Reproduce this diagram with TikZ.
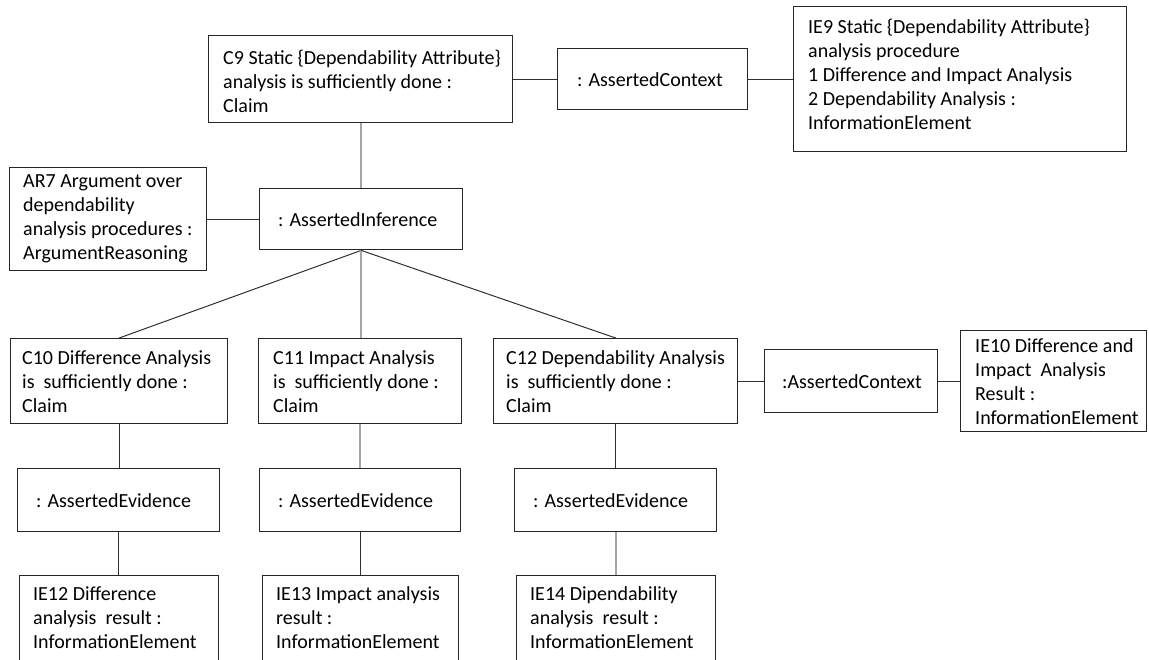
\documentclass[tikz,border=0pt]{standalone}
\usepackage{fontspec}
\setmainfont{Carlito}
\definecolor{boxline}{HTML}{262626}
\definecolor{linkdark}{HTML}{303030}
\definecolor{linkgray}{HTML}{A6A6A6}
\begin{document}
\begin{tikzpicture}[x=1pt,y=-1pt,
  frame/.style={draw=boxline, line width=1.4pt, fill=white, inner sep=0pt,
    anchor=north west},
  txt/.style={inner sep=0pt, align=left, anchor=west,
    font=\fontsize{20}{24}\selectfont},
  link/.style={draw=linkdark, line width=1.3pt},
  glink/.style={draw=linkgray, line width=1.8pt},
  slant/.style={draw=linkdark, line width=1pt}]
\useasboundingbox (0,0) rectangle (1149,660);
\clip (0,0) rectangle (1149,660);

% top claim with its context
\node[frame, minimum width=304pt, minimum height=87pt] (c9) at (208,35) {};
\node[txt] (c9t) at ([xshift=15pt,yshift=-2pt]c9.west)
  {C9 Static \{Dependability Attribute\}\\analysis is sufficiently done :\\Claim};
\node[frame, minimum width=190pt, minimum height=61pt] (ac1) at (557,48) {};
\node[txt] (ac1t) at ([xshift=20pt]ac1.west) {: AssertedContext};
\node[frame, minimum width=333pt, minimum height=145pt] (ie9) at (793,6) {};
\node[txt] (ie9t) at ([xshift=15pt,yshift=5pt]ie9.west)
  {IE9 Static \{Dependability Attribute\}\\analysis procedure\\1 Difference and Impact Analysis\\2 Dependability Analysis :\\InformationElement};

% inference and its reasoning
\node[frame, minimum width=197pt, minimum height=103pt] (ar7) at (9,167) {};
\node[txt] (ar7t) at ([xshift=14pt]ar7.west)
  {AR7 Argument over\\dependability\\analysis procedures :\\ArgumentReasoning};
\node[frame, minimum width=203pt, minimum height=61pt] (ai) at (259,188) {};
\node[txt] (ait) at ([xshift=19pt]ai.west) {: AssertedInference};

% sub-claims
\node[frame, minimum width=217pt, minimum height=85pt] (c10) at (10,338) {};
\node[txt] (c10t) at ([xshift=12pt]c10.west)
  {C10 Difference Analysis\\is\ \ sufficiently done :\\Claim};
\node[frame, minimum width=203pt, minimum height=85pt] (c11) at (258,338) {};
\node[txt] (c11t) at ([xshift=15pt]c11.west)
  {C11 Impact Analysis\\is\ \ sufficiently done :\\Claim};
\node[frame, minimum width=244pt, minimum height=85pt] (c12) at (493,338) {};
\node[txt] (c12t) at ([xshift=13pt]c12.west)
  {C12 Dependability Analysis\\is\ \ sufficiently done :\\Claim};
\node[frame, minimum width=173pt, minimum height=63pt] (ac2) at (764,349) {};
\node[txt] (ac2t) at ([xshift=18pt]ac2.west) {:AssertedContext};
\node[frame, minimum width=186pt, minimum height=101pt] (ie10) at (960,330) {};
\node[txt] (ie10t) at ([xshift=15pt]ie10.west)
  {IE10 Difference and\\Impact\ \ Analysis\\Result :\\InformationElement};

% evidence links
\node[frame, minimum width=202pt, minimum height=63pt] (ae1) at (17,468) {};
\node[txt] (ae1t) at ([xshift=19pt]ae1.west) {: AssertedEvidence};
\node[frame, minimum width=201pt, minimum height=63pt] (ae2) at (259,468) {};
\node[txt] (ae2t) at ([xshift=19pt]ae2.west) {: AssertedEvidence};
\node[frame, minimum width=202pt, minimum height=63pt] (ae3) at (514,468) {};
\node[txt] (ae3t) at ([xshift=19pt]ae3.west) {: AssertedEvidence};

% evidence items
\node[frame, minimum width=199pt, minimum height=92pt] (ie12) at (19,575) {};
\node[txt] (ie12t) at ([xshift=14pt,yshift=4pt]ie12.west)
  {IE12 Difference\\analysis\ \ result :\\InformationElement};
\node[frame, minimum width=196pt, minimum height=92pt] (ie13) at (262,575) {};
\node[txt] (ie13t) at ([xshift=14pt,yshift=4pt]ie13.west)
  {IE13 Impact analysis\\result :\\InformationElement};
\node[frame, minimum width=199pt, minimum height=92pt] (ie14) at (516,575) {};
\node[txt] (ie14t) at ([xshift=14pt,yshift=4pt]ie14.west)
  {IE14 Dipendability\\analysis\ \ result :\\InformationElement};

% connectors
\draw[link] (c9.east) -- (c9.east -| ac1.west);
\draw[link] (ac1.east) -- (ac1.east -| ie9.west);
\draw[glink] (ai.north |- c9.south) -- (ai.north);
\draw[link] (ar7.east) -- (ar7.east -| ai.west);
\draw[slant] (ai.south) -- (c10.north);
\draw[glink] (ai.south) -- (ai.south |- c11.north);
\draw[slant] (ai.south) -- (c12.north);
\draw[link] (ac2.west -| c12.east) -- (ac2.west);
\draw[link] (ac2.east) -- (ac2.east -| ie10.west);
\draw[link] (c10.south) -- (c10.south |- ae1.north);
\draw[glink] (c11.south) -- (c11.south |- ae2.north);
\draw[link] (c12.south) -- (c12.south |- ae3.north);
\draw[link] (ae1.south) -- (ae1.south |- ie12.north);
\draw[link] (ae2.south) -- (ae2.south |- ie13.north);
\draw[glink] (ae3.south) -- (ae3.south |- ie14.north);
\end{tikzpicture}
\end{document}
